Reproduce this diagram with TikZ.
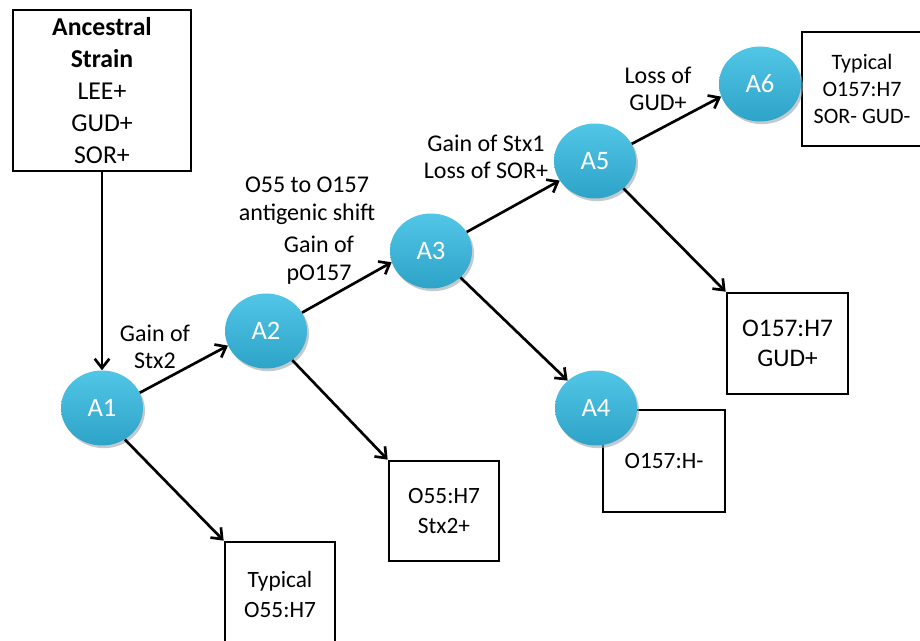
\documentclass[tikz,border=0pt]{standalone}
\usepackage{fontspec}
\setmainfont{Carlito}
\usetikzlibrary{arrows.meta,shapes.geometric,shadows}
\definecolor{ctop}{HTML}{52C6E6}
\definecolor{cbot}{HTML}{2DA3C8}
\definecolor{cshadow}{HTML}{9AA7AD}
\tikzset{
  anc/.style={ellipse, minimum width=82*0.75pt, minimum height=75*0.75pt, inner sep=0pt,
    top color=ctop, bottom color=cbot, draw=none, text=white,
    font=\fontsize{20}{24}\selectfont,
    drop shadow={shadow xshift=1.5pt, shadow yshift=-2pt, fill=cshadow, opacity=0.6}},
  strainbox/.style={draw=black, line width=2pt, fill=white, rectangle, inner sep=0pt,
    align=center, font=\fontsize{17.5}{22.5}\selectfont},
  lbl/.style={align=center, inner sep=0pt, font=\fontsize{18}{20.6}\selectfont},
  conn/.style={line width=2pt, -{Straight Barb[length=7pt, width=11pt, line width=2pt]}}
}
\begin{document}
\begin{tikzpicture}[x=0.75pt, y=-0.75pt]
\useasboundingbox (0,0) rectangle (920,641);
% boxes
\node[strainbox, minimum width=178*0.75pt, minimum height=161*0.75pt, font=\fontsize{19.3}{24}\selectfont] (anc) at (102,90.5)
  {\textbf{Ancestral}\\\textbf{Strain}\\LEE+\\GUD+\\SOR+};
\node[strainbox, minimum width=110*0.75pt, minimum height=104*0.75pt] (b1) at (280,594) {Typical\\O55:H7};
\node[strainbox, minimum width=110*0.75pt, minimum height=100*0.75pt] (b2) at (444,511) {O55:H7\\Stx2+};
\node[strainbox, minimum width=122*0.75pt, minimum height=102*0.75pt] (b4) at (664,461) {O157:H-};
\node[strainbox, minimum width=121*0.75pt, minimum height=101*0.75pt, font=\fontsize{19}{22.5}\selectfont] (b5) at (787.5,343.5) {O157:H7\\GUD+};
\node[strainbox, minimum width=120*0.75pt, minimum height=114*0.75pt, font=\fontsize{16.5}{20.5}\selectfont] (b6) at (862,89) {Typical\\O157:H7\\SOR- GUD-};
% ancestors
\node[anc] (A1) at (102,408) {A1};
\node[anc] (A2) at (266,331) {A2};
\node[anc] (A3) at (431,251) {A3};
\node[anc] (A4) at (596,408) {A4};
\node[anc] (A5) at (595,161) {A5};
\node[anc] (A6) at (760,84) {A6};
% connectors
\draw[conn] (anc.south) -- (A1.north);
\draw[conn] (A1.22) -- (A2.201);
\draw[conn] (A1.-54) -- (b1.north west);
\draw[conn] (A2.27) -- (A3.196);
\draw[conn] (A2.-48) -- (b2.north west);
\draw[conn] (A3.28) -- (A5.209);
\draw[conn] (A3.-42) -- (A4.136);
\draw[conn] (A5.25) -- (A6.198);
\draw[conn] (A5.-44) -- (b5.north west);
% labels
\node[lbl] (l1) at (155,347) {Gain of\\Stx2};
\node[lbl] (l2) at (307,201) {O55 to O157\\antigenic shift};
\node[lbl] (l3) at (319,260) {Gain of\\pO157};
\node[lbl] (l4) at (486,157) {Gain of Stx1\\Loss of SOR+};
\node[lbl] (l5) at (658,89) {Loss of\\GUD+};
\end{tikzpicture}
\end{document}
